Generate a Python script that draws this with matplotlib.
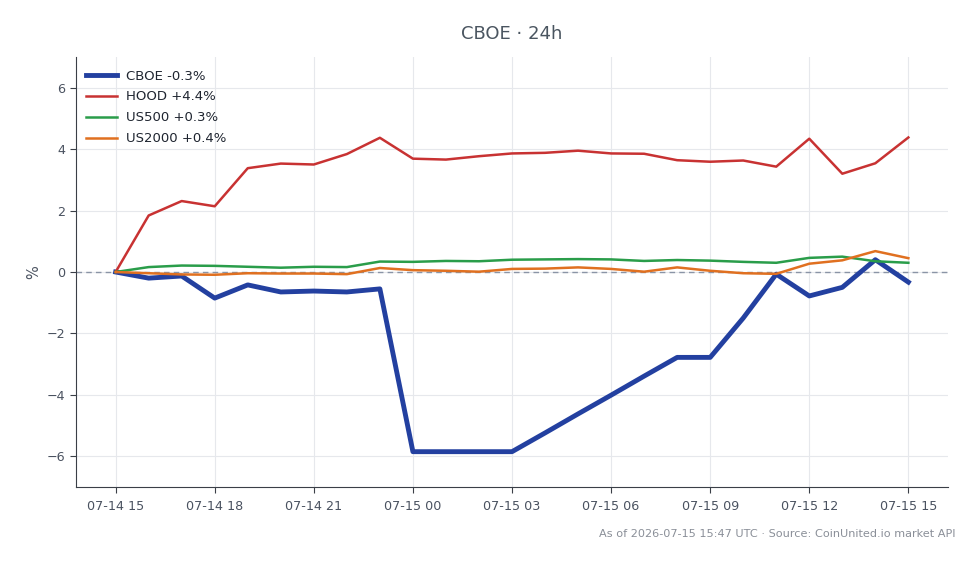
import matplotlib
matplotlib.use("Agg")
import matplotlib.pyplot as plt
import matplotlib.dates as mdates
import pandas as pd

times = pd.date_range("2026-07-14 15:00", "2026-07-15 15:00", freq="h")

cboe = [0, -0.2, -0.13, -0.85, -0.42, -0.65, -0.62, -0.65, -0.55, -5.85, -5.85, -5.85, -5.85,
        -5.24, -4.62, -4.01, -3.39, -2.78, -2.78, -1.5, -0.07, -0.78, -0.5, 0.4, -0.33]
hood = [0, 1.84, 2.31, 2.14, 3.38, 3.53, 3.50, 3.84, 4.37, 3.69, 3.66, 3.77, 3.86,
        3.88, 3.95, 3.86, 3.85, 3.64, 3.59, 3.63, 3.43, 4.34, 3.20, 3.54, 4.38]
us500 = [0, 0.16, 0.21, 0.2, 0.17, 0.14, 0.17, 0.16, 0.34, 0.33, 0.36, 0.35, 0.40,
         0.41, 0.42, 0.41, 0.36, 0.39, 0.37, 0.33, 0.30, 0.46, 0.50, 0.35, 0.30]
us2000 = [0, -0.04, -0.08, -0.09, -0.04, -0.05, -0.05, -0.07, 0.13, 0.06, 0.04, 0.01, 0.10,
          0.11, 0.15, 0.10, 0.01, 0.15, 0.04, -0.04, -0.06, 0.27, 0.38, 0.68, 0.45]

labels = ["CBOE -0.3%", "HOOD +4.4%", "US500 +0.3%", "US2000 +0.4%"]
colors = ["#2340a0", "#c83232", "#2a9d4a", "#e07020"]
widths = [3.5, 1.8, 1.8, 1.8]
series = [cboe, hood, us500, us2000]

fig = plt.figure(figsize=(9.8, 5.64), dpi=100)
ax = fig.add_axes([76/980, 1-487/564, (948-76)/980, (487-57)/564])

for s, lab, c, w in zip(series, labels, colors, widths):
    ax.plot(times, s, color=c, lw=w, label=lab, zorder=3)

ax.axhline(0, color="#8a94a6", lw=1, ls=(0, (4, 3)), zorder=2)
ax.set_ylim(-7, 7)
ax.set_yticks([-6, -4, -2, 0, 2, 4, 6])
ax.set_yticklabels(["\u22126", "\u22124", "\u22122", "0", "2", "4", "6"])
ax.xaxis.set_major_locator(mdates.HourLocator(byhour=range(0, 24, 3)))
ax.xaxis.set_major_formatter(mdates.DateFormatter("%m-%d %H"))
ax.grid(True, color="#e6e8ec", lw=0.8, zorder=0)
for sp in ["top", "right"]:
    ax.spines[sp].set_visible(False)
for sp in ["left", "bottom"]:
    ax.spines[sp].set_color("#3a3f47")
ax.tick_params(colors="#3a3f47", labelsize=9.2, length=4)
ax.tick_params(axis="x", labelcolor="#4a5260", pad=5)
ax.tick_params(axis="y", labelcolor="#4a5260")
ax.set_ylabel("%", color="#4a5260", fontsize=10.5)

ax.set_title("CBOE \u00b7 24h", color="#4a5560", fontsize=13, pad=13)
leg = ax.legend(loc="upper left", bbox_to_anchor=(-3/872, 1), frameon=False, fontsize=9.5,
                handlelength=2.35, handletextpad=0.7, borderaxespad=0.55, labelspacing=0.6)
for t in leg.get_texts():
    t.set_color("#1f2530")

fig.text(955/980, 1-534/564, "As of 2026-07-15 15:47 UTC \u00b7 Source: CoinUnited.io market API",
         ha="right", va="center", fontsize=8.1, color="#8a8f98")

fig.savefig("out.png", dpi=100)
